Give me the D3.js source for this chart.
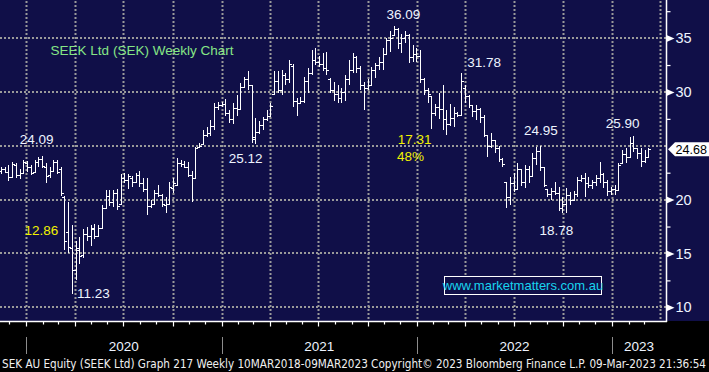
<!DOCTYPE html>
<html><head><meta charset="utf-8">
<script src="https://cdn.jsdelivr.net/npm/d3@7"></script>
<style>html,body{margin:0;padding:0;background:#000;overflow:hidden}svg{display:block}</style>
</head><body><svg id="c" width="709" height="372"></svg>
<script>
// ---------------- data ----------------
const firstWeek = "2019-11-15";   // weekly bars, one per Friday
const opens = [
22.7,22.8,22.6,22.1,23.2,22.3,22.5,23.4,23.0,22.6,
23.5,23.8,23.0,22.3,22.7,23.5,22.8,20.2,17.0,15.5,
13.5,15.3,14.9,16.8,16.6,17.3,16.6,17.4,19.2,20.3,
19.8,20.6,19.6,22.0,21.8,22.0,21.6,22.3,21.5,21.0,
19.4,19.6,20.6,20.4,19.5,19.6,21.1,21.4,23.4,23.3,
23.0,22.3,22.0,24.9,25.2,26.0,26.2,26.8,28.6,28.8,
28.9,28.0,27.5,28.5,28.4,30.5,31.2,30.6,25.6,26.3,
26.9,27.5,27.8,29.8,31.0,30.2,31.6,31.2,32.4,29.2,
29.0,29.2,31.0,31.8,33.0,32.8,32.6,32.2,31.2,30.2,
29.8,29.4,30.0,31.2,32.0,33.2,32.2,30.6,30.4,30.6,
32.0,32.5,32.8,33.5,34.8,35.3,35.8,34.5,35.0,35.3,
33.2,33.5,33.3,31.2,30.2,29.6,28.0,28.6,28.4,27.5,
27.0,27.6,28.0,27.9,30.4,29.6,28.8,28.2,28.4,27.7,
26.0,25.0,25.5,24.8,23.8,21.6,20.2,21.5,21.0,22.8,
21.6,22.8,22.2,23.9,24.5,23.0,21.0,20.5,20.8,20.6,
19.2,19.6,20.4,20.0,20.5,21.8,22.0,21.5,21.4,21.6,
22.0,22.4,21.6,20.8,21.0,20.9,23.4,24.2,24.0,25.3,
24.8,24.3,23.6,24.0];
const highs = [
23.0,23.0,23.2,23.5,23.4,22.8,23.7,23.6,23.2,23.7,
24.0,24.09,23.4,23.0,23.7,23.7,23.0,20.3,19.8,17.6,
16.2,16.5,17.3,17.5,17.6,17.7,17.6,19.5,20.9,20.9,
20.9,21.0,22.4,22.5,22.4,22.2,22.5,22.7,22.0,22.0,
20.0,20.9,21.4,20.5,20.2,21.6,22.0,23.9,23.7,23.6,
23.5,22.7,24.9,25.3,26.5,26.7,27.4,29.0,29.1,29.1,
29.3,28.3,29.0,29.7,30.8,31.4,31.9,30.6,27.6,27.3,
27.7,28.3,29.0,31.9,31.9,32.0,31.8,33.0,32.6,29.4,
29.5,31.4,32.2,33.9,34.1,33.3,33.6,33.7,31.3,30.9,
30.6,30.4,31.6,33.0,33.6,33.3,32.4,30.9,31.2,32.3,
32.7,33.2,34.1,35.0,35.7,36.09,35.9,35.4,35.7,35.4,
34.4,34.1,33.9,31.3,30.4,29.6,28.9,29.9,30.6,28.3,
28.9,28.6,28.1,31.78,30.6,29.7,28.8,28.8,28.5,27.9,
26.0,26.2,25.5,25.0,23.9,21.6,22.1,22.5,23.4,22.8,
23.2,23.1,24.3,24.9,24.95,23.0,21.0,21.1,21.6,21.2,
20.2,21.1,20.7,20.8,22.1,22.3,22.5,22.1,21.8,22.3,
23.5,22.5,21.8,21.2,21.4,23.4,24.6,24.8,25.8,25.90,
24.8,24.8,24.6,24.8];
const lows = [
22.4,22.5,21.7,22.0,22.0,21.9,22.4,22.6,22.3,22.5,
23.0,22.9,21.5,22.0,22.6,22.4,20.3,15.3,15.0,11.23,
12.5,14.0,14.6,16.2,15.7,16.3,16.5,17.3,19.1,19.4,
19.3,19.0,19.5,21.5,21.0,21.2,21.5,21.2,20.7,18.6,
19.2,19.6,20.2,19.3,18.8,19.5,20.6,21.3,23.0,22.9,
22.1,19.8,21.9,24.8,25.2,25.8,25.9,26.5,28.3,28.6,
27.8,27.1,27.0,27.8,28.3,30.4,30.2,25.3,25.12,26.1,
26.5,27.3,27.8,29.7,29.9,29.7,30.6,30.8,28.6,27.8,
28.9,29.0,29.9,31.6,32.5,32.3,31.9,31.6,29.9,29.2,
29.0,29.0,29.2,30.6,31.8,31.8,30.2,28.3,30.2,30.6,
31.3,32.0,32.0,33.5,33.7,35.2,34.0,33.6,34.5,32.7,
32.8,32.8,30.8,29.7,29.0,26.6,27.8,27.5,26.5,26.0,
26.8,26.7,27.7,27.8,29.0,28.5,27.7,27.4,27.1,25.8,
24.0,24.8,24.3,23.5,23.0,19.2,19.5,20.7,21.0,21.3,
21.1,21.5,22.2,23.2,22.7,21.2,20.2,20.0,20.4,18.9,
18.78,18.8,19.5,19.9,20.2,21.6,20.2,21.1,21.0,21.3,
21.5,21.1,20.3,20.4,20.4,20.9,23.4,23.4,24.0,24.4,
23.8,23.0,23.4,23.9];
const closes = [
22.8,22.6,22.1,23.3,22.3,22.5,23.5,23.0,22.5,23.5,
23.8,23.1,22.2,22.7,23.5,22.6,20.6,16.2,15.6,13.5,
15.5,14.8,16.8,16.6,17.4,16.6,17.4,19.2,20.3,19.8,
20.6,19.4,22.0,21.8,22.2,21.6,22.3,21.5,21.0,19.4,
19.6,20.6,20.4,19.6,19.6,21.2,21.5,23.4,23.3,23.0,
22.3,22.0,24.8,25.0,26.0,26.2,26.8,28.6,28.8,28.9,
28.0,27.5,28.5,28.4,30.5,31.2,30.6,25.8,26.3,26.9,
27.5,27.8,28.7,31.0,30.2,31.6,31.2,32.6,29.2,29.0,
29.2,31.0,31.8,33.0,32.8,32.6,32.2,32.0,30.2,29.8,
29.4,30.0,31.2,32.0,33.2,32.2,30.6,30.4,30.6,32.0,
32.5,32.8,33.5,34.8,35.0,35.8,34.5,35.0,35.3,33.2,
33.5,33.3,31.2,30.2,29.8,28.0,28.6,28.4,27.5,27.0,
27.6,28.0,27.9,31.0,29.6,28.8,28.2,28.4,27.7,26.0,
25.0,25.5,24.8,23.8,23.3,20.2,21.5,21.0,22.8,21.6,
22.8,22.2,23.9,24.5,23.0,21.4,20.5,20.8,20.6,19.2,
19.6,20.4,20.0,20.5,21.8,22.0,21.5,21.4,21.6,22.0,
22.4,21.6,20.8,21.0,20.9,23.2,24.2,24.0,25.3,24.8,
24.3,23.6,24.0,24.68];
const yTicks = [10, 15, 20, 25, 30, 35];
const yMinorTicks = [12.5, 17.5, 22.5, 27.5, 32.5, 37.5];
const yearLabels = ["2020", "2021", "2022", "2023"];
const lastPrice = 24.68;
// annotation labels anchored in data space (date, price)
const labels = [
  {text:"24.09", date:"2020-01-21", price:25.16, color:"#eef4ff"},
  {text:"12.86", date:"2020-01-30", price:16.71, color:"#f2f200"},
  {text:"11.23", date:"2020-05-06", price:10.86, color:"#eef4ff"},
  {text:"25.12", date:"2021-02-15", price:23.40, color:"#eef4ff"},
  {text:"36.09", date:"2021-12-07", price:36.77, color:"#eef4ff"},
  {text:"17.31", date:"2021-12-28", price:25.16, color:"#f2f200"},
  {text:"48%",   date:"2021-12-20", price:23.58, color:"#f2f200"},
  {text:"31.78", date:"2022-05-07", price:32.31, color:"#eef4ff"},
  {text:"24.95", date:"2022-08-21", price:26.00, color:"#eef4ff"},
  {text:"25.90", date:"2023-01-21", price:26.65, color:"#eef4ff"},
  {text:"18.78", date:"2022-09-19", price:16.71, color:"#eef4ff"}
];
const title = {text:"SEEK Ltd (SEK) Weekly Chart", date:"2020-02-16", price:33.45};
const footer = "SEK AU Equity (SEEK Ltd) Graph 217  Weekly 10MAR2018-09MAR2023   Copyright\u00A9 2023 Bloomberg Finance L.P.   09-Mar-2023 21:36:54";
const website = "www.marketmatters.com.au";

// ---------------- layout ----------------
const W = 709, H = 372, plotR = 666, plotB = 321;
const NAVY = "#100f48";
const parse = d3.timeParse("%Y-%m-%d");
const start = parse(firstWeek);
const dates = opens.map((_, i) => d3.timeDay.offset(start, 7 * i));
const bars = dates.map((d, i) => ({date: d, o: opens[i], h: highs[i], l: lows[i], c: closes[i]}));

const x = d3.scaleTime().domain([parse("2020-01-01"), parse("2023-01-01")]).range([26, 612]);
const y = d3.scaleLinear().domain([10, 35]).range([307.3, 38.1]);

const svg = d3.select("#c");
svg.append("rect").attr("width", W).attr("height", H).attr("fill", "#000");
svg.append("rect").attr("width", W).attr("height", plotB).attr("fill", NAVY);

const defs = svg.append("defs");
defs.append("clipPath").attr("id", "plot").append("rect").attr("width", plotR).attr("height", plotB);
const plot = svg.append("g").attr("clip-path", "url(#plot)");

// gridlines
const GRID = "#9a9a9a";
const quarters = d3.timeMonth.every(3).range(parse("2019-10-01"), parse("2023-06-01"));
plot.selectAll("line.vg").data(quarters).join("line")
  .attr("x1", d => Math.round(x(d)) + 0.5).attr("x2", d => Math.round(x(d)) + 0.5)
  .attr("y1", 1).attr("y2", plotB)
  .attr("stroke", GRID).attr("stroke-width", 2).attr("stroke-dasharray", "2,2");
plot.selectAll("line.hg").data(yTicks).join("line")
  .attr("x1", 0).attr("x2", plotR)
  .attr("y1", d => Math.round(y(d))).attr("y2", d => Math.round(y(d)))
  .attr("stroke", GRID).attr("stroke-width", 2).attr("stroke-dasharray", "2,2");

// OHLC bars
const px = d => Math.round(x(d)) + 0.5;
const g = plot.append("g").attr("stroke", "#ffffff").attr("stroke-width", 1.3).attr("shape-rendering", "crispEdges");
g.selectAll("line.hl").data(bars).join("line")
  .attr("x1", d => px(d.date)).attr("x2", d => px(d.date))
  .attr("y1", d => y(d.h)).attr("y2", d => y(d.l));
g.selectAll("line.op").data(bars).join("line")
  .attr("x1", d => px(d.date) - 2.5).attr("x2", d => px(d.date))
  .attr("y1", d => Math.round(y(d.o)) + 0.5).attr("y2", d => Math.round(y(d.o)) + 0.5);
g.selectAll("line.cl").data(bars).join("line")
  .attr("x1", d => px(d.date)).attr("x2", d => px(d.date) + 2.5)
  .attr("y1", d => Math.round(y(d.c)) + 0.5).attr("y2", d => Math.round(y(d.c)) + 0.5);

// annotations
const FONT = "'Liberation Sans', Arial, sans-serif";
svg.append("g").selectAll("text").data(labels).join("text")
  .attr("x", d => x(parse(d.date))).attr("y", d => y(d.price))
  .attr("text-anchor", "middle").attr("fill", d => d.color)
  .attr("font-family", FONT).attr("font-size", 13.5).text(d => d.text);
svg.append("text").attr("x", x(parse(title.date))).attr("y", y(title.price))
  .attr("fill", "#86e686").attr("font-family", FONT).attr("font-size", 13.5).text(title.text);

// website box
svg.append("rect").attr("x", 444.5).attr("y", 276.5).attr("width", 157).attr("height", 18)
  .attr("fill", NAVY).attr("stroke", "#ffffff").attr("stroke-width", 1);
svg.append("text").attr("x", 523).attr("y", 290).attr("text-anchor", "middle")
  .attr("fill", "#18d4ee").attr("font-family", FONT).attr("font-size", 13).text(website);

// axes lines
svg.append("line").attr("x1", plotR + 0.5).attr("x2", plotR + 0.5).attr("y1", 0).attr("y2", plotB + 1)
  .attr("stroke", "#fff").attr("stroke-width", 1.5);
svg.append("line").attr("x1", 0).attr("x2", plotR + 1).attr("y1", plotB + 0.5).attr("y2", plotB + 0.5)
  .attr("stroke", "#fff").attr("stroke-width", 1.5);

// right y axis (the tick hidden behind the last-price tag gets no label)
const ly = y(lastPrice);
const labelledTicks = yTicks.filter(t => Math.abs(y(t) - ly) > 10);
const yAxis = svg.append("g").attr("transform", `translate(${plotR + 0.5},0)`)
  .call(d3.axisRight(y).tickValues(labelledTicks).tickSize(0).tickPadding(9).tickFormat(d3.format("d")));
yAxis.select(".domain").remove();
yAxis.selectAll("text").attr("fill", "#eef4ff").attr("font-family", FONT).attr("font-size", 14.5);
yAxis.selectAll(".tick").append("path").attr("d", "M0,-3.5L0,3.5L8,0Z").attr("fill", "#fff");
const yMinor = svg.append("g").attr("transform", `translate(${plotR + 0.5},0)`)
  .call(d3.axisRight(y).tickValues(yMinorTicks).tickSize(4).tickFormat(""));
yMinor.select(".domain").remove();
yMinor.selectAll("line").attr("stroke", "#fff").attr("stroke-width", 1.2);

// last price tag
svg.append("path").attr("d", `M668,${ly}L675,${ly - 7}L709,${ly - 7}L709,${ly + 7}L675,${ly + 7}Z`)
  .attr("fill", "#fff");
svg.append("text").attr("x", 675.5).attr("y", ly + 5).attr("fill", "#000")
  .attr("font-family", FONT).attr("font-size", 13).attr("textLength", 31.5)
  .attr("lengthAdjust", "spacingAndGlyphs").text(lastPrice.toFixed(2));

// bottom axis ticks
const months = d3.timeMonth.every(1).range(parse("2019-11-01"), parse("2023-04-01"));
const xAxis = svg.append("g").attr("transform", `translate(0,${plotB + 0.5})`)
  .call(d3.axisBottom(x).tickValues(months).tickSize(3).tickFormat(""));
xAxis.select(".domain").remove();
xAxis.selectAll("line").attr("stroke", "#fff").attr("stroke-width", 1.2)
  .attr("y2", d => d.getMonth() % 3 === 0 ? 5 : 3);
xAxis.selectAll(".tick").attr("transform", d => `translate(${Math.round(x(d)) + 0.5},0)`);

// year separators and labels
const yearStarts = yearLabels.map(s => parse(s + "-01-01"));
svg.selectAll("line.ys").data(yearStarts).join("line")
  .attr("x1", d => Math.round(x(d)) + 0.5).attr("x2", d => Math.round(x(d)) + 0.5)
  .attr("y1", 337).attr("y2", 354).attr("stroke", "#8c8c8c").attr("stroke-width", 1);
svg.selectAll("text.yl").data(yearLabels).join("text")
  .attr("x", (d, i) => {
    const a = x(yearStarts[i]);
    const b = i < yearLabels.length - 1 ? x(yearStarts[i + 1]) : plotR;
    return (a + b) / 2;
  })
  .attr("y", 351).attr("text-anchor", "middle").attr("fill", "#eef4ff")
  .attr("font-family", FONT).attr("font-size", 13.5).text(d => d);

// footer
svg.append("text").attr("x", 2).attr("y", 368).attr("fill", "#f0f0f0")
  .attr("font-family", "'Liberation Sans Narrow', 'Arial Narrow', 'DejaVu Sans Condensed', sans-serif")
  .attr("font-size", 11.5).attr("textLength", 704).attr("lengthAdjust", "spacingAndGlyphs")
  .text(footer);
</script></body></html>
